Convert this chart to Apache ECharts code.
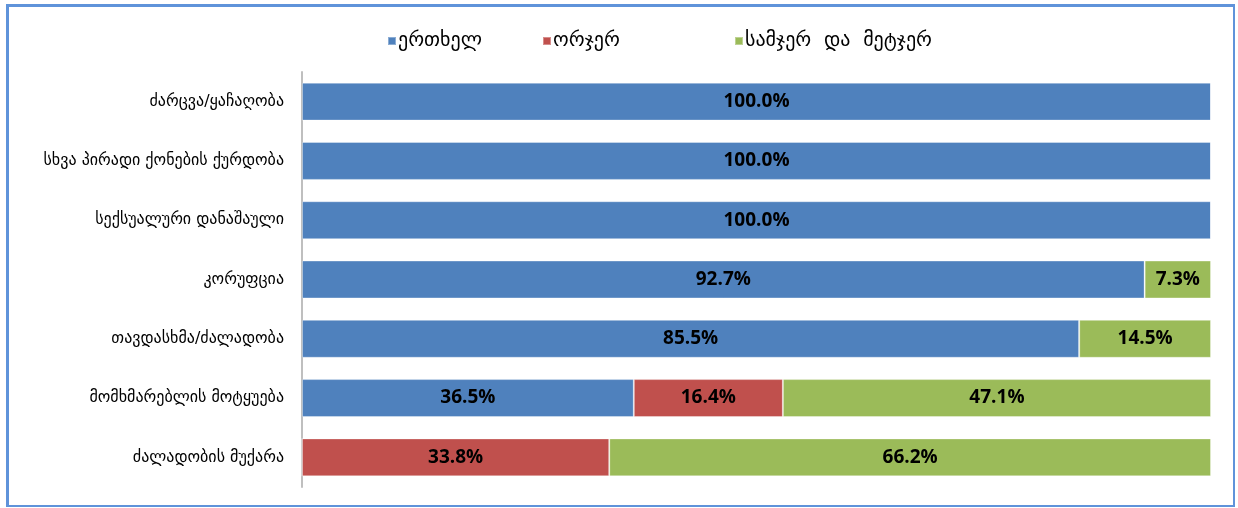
<!DOCTYPE html>
<html>
<head>
<meta charset="utf-8">
<script src="https://cdn.jsdelivr.net/npm/echarts@6/dist/echarts.min.js"></script>
<style>
  html, body { margin: 0; padding: 0; background: #fff; }
  #frame {
    position: absolute; left: 6px; top: 4px; width: 1224px; height: 498px;
    border: 3px solid #5f93da; border-right-width: 2px; border-bottom-width: 2px;
  }
  #chart { position: absolute; left: 0; top: 0; width: 1238px; height: 508px; }
</style>
</head>
<body>
<div id="frame"></div>
<div id="chart"></div>
<script>
// კატეგორიები (ზემოდან ქვემოთ)
const categories = [
  'ძარცვა/ყაჩაღობა',
  'სხვა პირადი ქონების ქურდობა',
  'სექსუალური დანაშაული',
  'კორუფცია',
  'თავდასხმა/ძალადობა',
  'მომხმარებლის მოტყუება',
  'ძალადობის მუქარა'
]
const seriesNames = ['ერთხელ', 'ორჯერ', 'სამჯერ  და  მეტჯერ']
const once = [100, 100, 100, 92.7, 85.5, 36.5, 0]
const twice = [0, 0, 0, 0, 0, 16.4, 33.8]
const threePlus = [0, 0, 0, 7.3, 14.5, 47.1, 66.2]
const colors = ['#4f81bd', '#c0504d', '#9bbb59']
// ლეგენდის პოზიციები
const legendLeft = [382, 537, 729]

const chart = echarts.init(document.getElementById('chart'))

const makeSeries = (name, data, i) => ({
  name,
  type: 'bar',
  stack: 'total',
  data,
  barCategoryGap: '36%',
  itemStyle: { color: colors[i], borderColor: 'rgba(255,255,255,0.35)', borderWidth: 1 },
  label: {
    show: true,
    position: 'inside',
    color: '#000',
    fontFamily: 'Open Sans',
    fontWeight: 'bold',
    fontSize: 19,
    formatter: p => (p.value > 0 ? p.value.toFixed(1) + '%' : '')
  }
})

chart.setOption({
  animation: false,
  legend: seriesNames.map((n, i) => ({
    top: 26,
    left: legendLeft[i],
    itemWidth: 8,
    itemHeight: 8,
    icon: 'rect',
    textStyle: { fontFamily: 'DejaVu Sans', fontSize: 20, color: '#000', padding: [0, 0, 0, -3] },
    data: [n]
  })),
  grid: { left: 302, right: 27, top: 72, bottom: 21 },
  xAxis: {
    type: 'value',
    min: 0,
    max: 100,
    show: false
  },
  yAxis: {
    type: 'category',
    inverse: true,
    data: categories,
    axisLine: { show: true, lineStyle: { color: '#bfbfbf', width: 2 } },
    axisTick: { show: false },
    axisLabel: {
      color: '#000',
      fontFamily: 'DejaVu Sans',
      fontSize: 16,
      margin: 18
    }
  },
  series: [
    makeSeries(seriesNames[0], once, 0),
    makeSeries(seriesNames[1], twice, 1),
    makeSeries(seriesNames[2], threePlus, 2)
  ]
})
</script>
</body>
</html>
